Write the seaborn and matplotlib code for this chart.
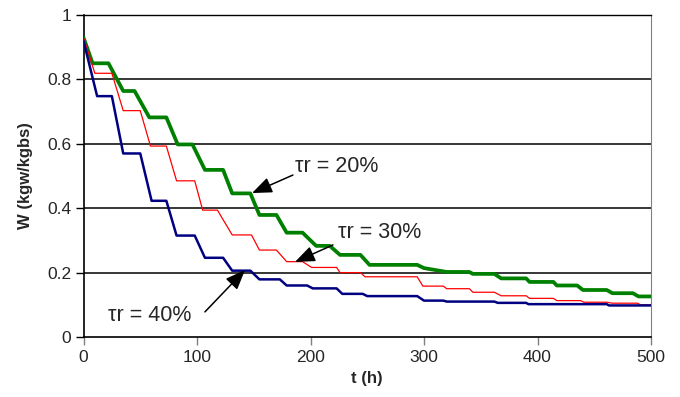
import numpy as np
import pandas as pd
import matplotlib
matplotlib.use("Agg")
import matplotlib.pyplot as plt
import seaborn as sns

# Data (corner points of each staircase curve)
t_20 = [0, 8, 22, 35, 45, 58, 73, 83, 96, 107, 123, 131, 147, 155, 170, 179, 193, 205, 217,
        226, 244, 252, 294, 300, 310, 320, 340, 343, 362, 368, 390, 393, 414, 417, 435, 440,
        461, 466, 484, 489, 500]
w_20 = [0.93, 0.85, 0.85, 0.764, 0.764, 0.682, 0.682, 0.598, 0.598, 0.519, 0.519, 0.446, 0.446,
        0.379, 0.379, 0.324, 0.324, 0.283, 0.283, 0.255, 0.255, 0.224, 0.224, 0.214, 0.208,
        0.202, 0.202, 0.196, 0.196, 0.182, 0.182, 0.171, 0.171, 0.160, 0.160, 0.146, 0.146,
        0.136, 0.136, 0.126, 0.126]

t_30 = [0, 10, 25, 35, 50, 59, 73, 82, 98, 105, 118, 131, 148, 155, 170, 179, 193, 201, 223,
        226, 244, 248, 294, 299, 317, 320, 340, 343, 362, 368, 390, 393, 414, 417, 438, 441,
        461, 466, 488, 491, 500]
w_30 = [0.93, 0.819, 0.819, 0.703, 0.703, 0.593, 0.593, 0.485, 0.485, 0.394, 0.394, 0.317, 0.317,
        0.270, 0.270, 0.234, 0.234, 0.216, 0.216, 0.200, 0.200, 0.187, 0.187, 0.158, 0.158,
        0.150, 0.150, 0.139, 0.139, 0.128, 0.128, 0.120, 0.120, 0.113, 0.113, 0.108, 0.108,
        0.105, 0.105, 0.100, 0.100]

t_40 = [0, 12, 25, 35, 50, 60, 73, 82, 98, 107, 123, 131, 147, 155, 173, 179, 197, 202, 223,
        228, 246, 250, 294, 300, 317, 320, 362, 365, 390, 392, 461, 463, 500]
w_40 = [0.92, 0.748, 0.748, 0.570, 0.570, 0.423, 0.423, 0.315, 0.315, 0.246, 0.246, 0.206, 0.206,
        0.179, 0.179, 0.160, 0.160, 0.151, 0.151, 0.134, 0.134, 0.127, 0.127, 0.113, 0.113,
        0.110, 0.110, 0.106, 0.106, 0.102, 0.102, 0.098, 0.098]

series_names = ["τr = 20%", "τr = 30%", "τr = 40%"]
x_ticks = [0, 100, 200, 300, 400, 500]
y_ticks = [0, 0.2, 0.4, 0.6, 0.8, 1.0]
y_tick_labels = ["0", "0.2", "0.4", "0.6", "0.8", "1"]

df = pd.concat([
    pd.DataFrame({"t": t_20, "W": w_20, "s": series_names[0]}),
    pd.DataFrame({"t": t_30, "W": w_30, "s": series_names[1]}),
    pd.DataFrame({"t": t_40, "W": w_40, "s": series_names[2]}),
])

sns.set_style("white")
plt.rcParams["font.family"] = ["Liberation Sans", "DejaVu Sans"]

fig = plt.figure(figsize=(6.8, 3.97), dpi=100)
ax = fig.add_axes([83.5 / 680, 1 - 337 / 397, (651 - 83.5) / 680, (337 - 15) / 397])

for y in [0.2, 0.4, 0.6, 0.8, 1.0]:
    ax.axhline(y, color="black", lw=1.1, zorder=1)

palette = {series_names[0]: "#008000", series_names[1]: "#FF0000", series_names[2]: "#000080"}
widths = {series_names[0]: 2.7, series_names[1]: 0.9, series_names[2]: 1.8}
for name in series_names:
    sub = df[df["s"] == name]
    sns.lineplot(data=sub, x="t", y="W", sort=False, estimator=None, color=palette[name],
                 lw=widths[name], ax=ax, zorder=3, legend=False)

ax.set_xlim(0, 500)
ax.set_ylim(0, 1)
ax.set_xticks(x_ticks)
ax.set_yticks(y_ticks)
ax.set_yticklabels(y_tick_labels)
ax.tick_params(axis="both", direction="out", length=6, width=1, labelsize=12.5, color="black",
               bottom=True, left=True, pad=3)
ax.tick_params(axis="x", color="gray")
for side in ["left", "bottom"]:
    ax.spines[side].set_color("black")
    ax.spines[side].set_linewidth(1.2)
ax.spines["right"].set_color("gray")
ax.spines["top"].set_color("black")
ax.spines["top"].set_linewidth(1.0)
ax.set_xlabel("t (h)", fontweight="bold", fontsize=12, labelpad=5)
ax.set_ylabel("W (kgw/kgbs)", fontweight="bold", fontsize=12, labelpad=10)

arrow = dict(arrowstyle="-|>,head_length=0.55,head_width=0.22", color="black", lw=1.1,
             mutation_scale=22, shrinkA=0, shrinkB=0)
# arrows (tip -> tail)
ax.annotate("", xy=(148.5, 0.447), xytext=(184.5, 0.503), arrowprops=arrow, zorder=5)
ax.annotate("", xy=(186.3, 0.233), xytext=(219.8, 0.286), arrowprops=arrow, zorder=5)
ax.annotate("", xy=(142.3, 0.208), xytext=(107.0, 0.078), arrowprops=arrow, zorder=5)
# labels
ax.text(186, 0.528, series_names[0], fontsize=15.5, va="center", ha="left", zorder=5)
ax.text(224, 0.323, series_names[1], fontsize=15.5, va="center", ha="left", zorder=5)
ax.text(21.6, 0.068, series_names[2], fontsize=15.5, va="center", ha="left", zorder=5)

fig.savefig("out.png", dpi=100)
